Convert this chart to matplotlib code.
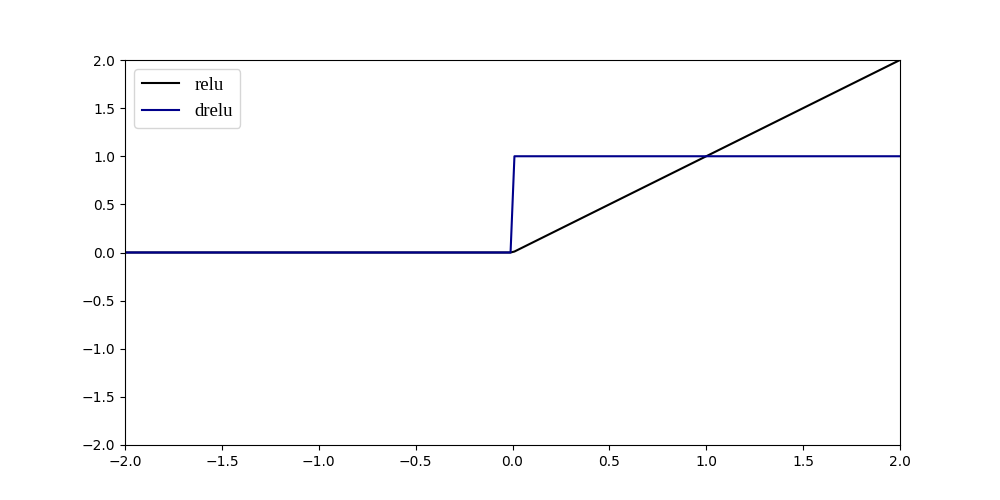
import matplotlib
matplotlib.use("Agg")
import matplotlib.pyplot as plt

# breakpoints
x = [-2.0, -0.01, 0.01, 2.0]
relu = [0.0, 0.0, 0.01, 2.0]
drelu = [0.0, 0.0, 1.0, 1.0]

fig = plt.figure(figsize=(10, 5), dpi=100)
ax = fig.add_subplot(111)
ax.plot(x, relu, color="black", label="relu")
ax.plot(x, drelu, color="darkblue", label="drelu")
ax.set_xlim(-2, 2)
ax.set_ylim(-2, 2)
ax.legend(loc="upper left", prop={"family": "Liberation Serif", "size": 13.5})
fig.savefig("out.png", dpi=100)
